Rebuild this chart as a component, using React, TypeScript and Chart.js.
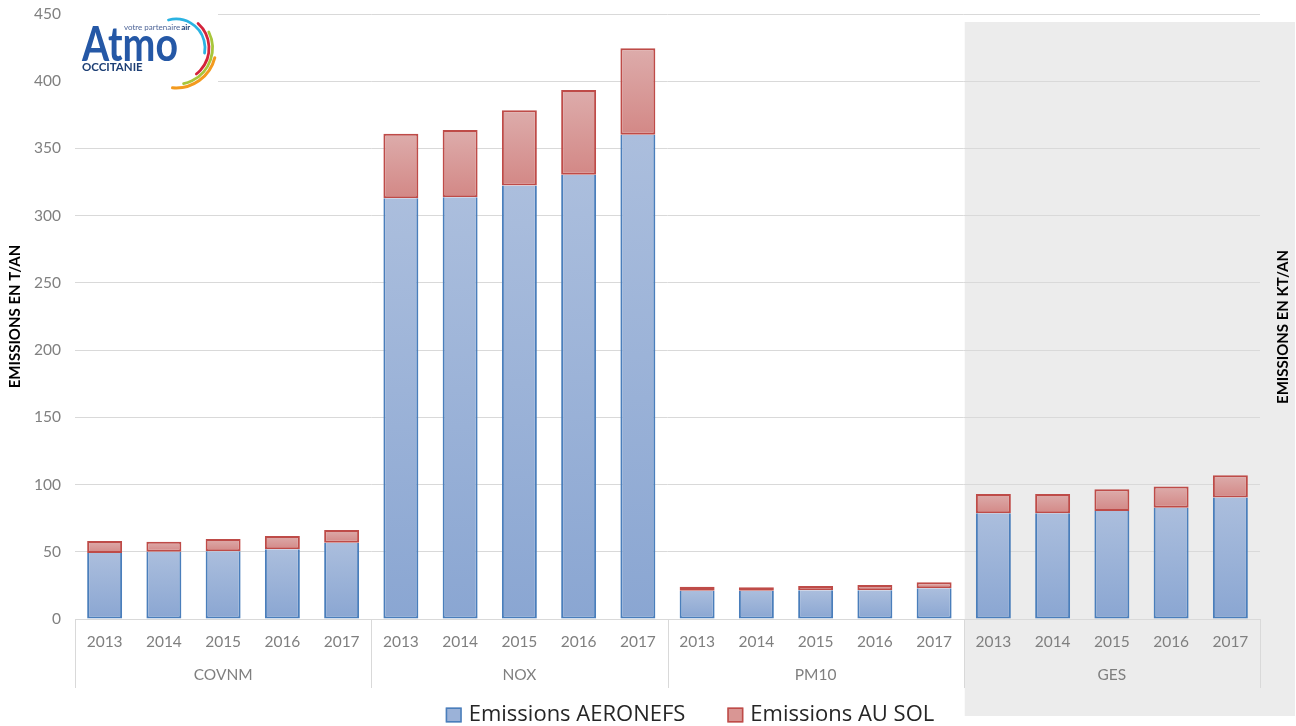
import React, { useEffect, useRef } from "react";
import { Chart, registerables } from "chart.js";

Chart.register(...registerables);

const years = ["2013", "2014", "2015", "2016", "2017"];
const pollutants = ["COVNM", "NOX", "PM10", "GES"];

// Emissions AERONEFS per pollutant, 2013 → 2017
const covnmAeronefs = [49, 50, 50.4, 51.8, 56.8];
const noxAeronefs = [313, 313.7, 322.4, 330.4, 360.1];
const pm10Aeronefs = [21, 21, 21.3, 21.3, 22.8];
const gesAeronefs = [78.6, 78.6, 80.4, 82.8, 90.3];

// Emissions AU SOL per pollutant, 2013 → 2017
const covnmSol = [9, 7.5, 9.1, 9.9, 9.4];
const noxSol = [47.9, 50.1, 56.1, 63, 64.5];
const pm10Sol = [3, 2.6, 3.3, 4, 4.5];
const gesSol = [14.4, 14.4, 16.1, 15.7, 16.6];

const yMin = 0;
const yMax = 450;
const yStep = 50;

const seriesNames = ["Emissions AERONEFS", "Emissions AU SOL"];
const leftAxisTitle = "EMISSIONS EN T/AN";
const rightAxisTitle = "EMISSIONS EN KT/AN";
const highlightedGroup = "GES";

const categoryLabels = pollutants.flatMap(() => years);
const aeronefs = [...covnmAeronefs, ...noxAeronefs, ...pm10Aeronefs, ...gesAeronefs];
const auSol = [...covnmSol, ...noxSol, ...pm10Sol, ...gesSol];

const FONT = "Lato, 'Open Sans', sans-serif";
const LEGEND_FONT = "'Open Sans', Lato, sans-serif";
const W = 1296;
const H = 726;

// Vertical gradient running from the top to the bottom of each stacked segment
function segmentGradient(top: string, bottom: string) {
  return (ctx: any) => {
    const chart = ctx.chart;
    if (!chart.chartArea || ctx.type !== "data") return bottom;
    const y = chart.scales.y;
    const i = ctx.dataIndex;
    let base = 0;
    for (let d = 0; d < ctx.datasetIndex; d++) base += chart.data.datasets[d].data[i];
    const v = chart.data.datasets[ctx.datasetIndex].data[i];
    const y0 = y.getPixelForValue(base + v);
    const y1 = y.getPixelForValue(base);
    if (!isFinite(y0) || !isFinite(y1) || Math.abs(y1 - y0) < 0.5) return bottom;
    const g = chart.ctx.createLinearGradient(0, y0, 0, y1);
    g.addColorStop(0, top);
    g.addColorStop(1, bottom);
    return g;
  };
}

function groupBounds(chart: any, g: number) {
  const x = chart.scales.x;
  const step = x.getPixelForValue(1) - x.getPixelForValue(0);
  const first = g * years.length;
  const last = first + years.length - 1;
  return {
    left: x.getPixelForValue(first) - step / 2,
    right: x.getPixelForValue(last) + step / 2,
  };
}

// Shaded panel behind the GES group
const panelPlugin = {
  id: "panel",
  beforeDraw(chart: any) {
    const c = chart.ctx;
    const g = pollutants.indexOf(highlightedGroup);
    const b = groupBounds(chart, g);
    c.save();
    c.fillStyle = "#ffffff";
    c.fillRect(0, 0, W, H);
    c.fillStyle = "#ececec";
    c.fillRect(b.left + 1, 22, W - b.left - 2, 694);
    c.restore();
  },
};

// Pollutant row, separators, right-hand title, legend and logo
const decorPlugin = {
  id: "decor",
  afterDraw(chart: any) {
    const c = chart.ctx;
    const area = chart.chartArea;
    c.save();

    // separators between pollutant groups
    c.strokeStyle = "#d9d9d9";
    c.lineWidth = 1;
    for (let g = 0; g < pollutants.length; g++) {
      const b = groupBounds(chart, g);
      for (const px of [b.left, b.right]) {
        const xx = Math.round(px) + 0.5;
        c.beginPath();
        c.moveTo(xx, area.bottom);
        c.lineTo(xx, 688);
        c.stroke();
      }
    }

    // pollutant names
    c.fillStyle = "#7f7f7f";
    c.font = `15.5px ${FONT}`;
    c.textAlign = "center";
    c.textBaseline = "middle";
    pollutants.forEach((p, g) => {
      const b = groupBounds(chart, g);
      c.fillText(p, (b.left + b.right) / 2, 675);
    });

    // right-hand axis title
    c.save();
    c.translate(1283, 327);
    c.rotate(-Math.PI / 2);
    c.fillStyle = "#000000";
    c.font = `bold 15px ${FONT}`;
    c.textAlign = "center";
    c.textBaseline = "middle";
    c.fillText(rightAxisTitle, 0, 0);
    c.restore();

    // legend
    const sets = chart.data.datasets;
    c.font = `22px ${LEGEND_FONT}`;
    const boxW = 16;
    const boxH = 15;
    const gap = 7;
    const spacing = 42;
    const widths = sets.map((d: any) => c.measureText(d.label).width);
    const total = widths.reduce((a: number, w: number) => a + boxW + gap + w, 0) + spacing * (sets.length - 1);
    let lx = 690 - total / 2;
    const ly = 715;
    const legendFill = ["#9bb2d8", "#d99694"];
    sets.forEach((d: any, i: number) => {
      c.fillStyle = legendFill[i];
      c.fillRect(lx, ly - boxH / 2, boxW, boxH);
      c.strokeStyle = d.borderColor;
      c.lineWidth = 1.5;
      c.strokeRect(lx + 0.75, ly - boxH / 2 + 0.75, boxW - 1.5, boxH - 1.5);
      c.fillStyle = "#262626";
      c.textAlign = "left";
      c.textBaseline = "middle";
      c.fillText(d.label, lx + boxW + gap, ly);
      lx += boxW + gap + widths[i] + spacing;
    });

    // logo
    c.fillStyle = "#ffffff";
    c.fillRect(72, 2, 146, 88);
    const cx = 176;
    const cy = 48;
    const arc = (r: number, a0: number, a1: number, color: string, w: number) => {
      c.beginPath();
      c.arc(cx, cy, r, (a0 * Math.PI) / 180, (a1 * Math.PI) / 180);
      c.strokeStyle = color;
      c.lineWidth = w;
      c.lineCap = "round";
      c.stroke();
    };
    arc(29, -105, 10, "#2bb3e2", 2.8);
    arc(33, -48, 52, "#d4233b", 2.8);
    arc(36.5, -26, 78, "#a8c63b", 2.8);
    arc(40, 14, 95, "#f39a1e", 3);

    c.textAlign = "left";
    c.textBaseline = "alphabetic";
    c.font = `bold 47px ${FONT}`;
    const atmoW = c.measureText("Atmo").width;
    c.save();
    c.translate(82, 61);
    c.scale(96 / atmoW, 1);
    c.fillStyle = "#2558a6";
    c.fillText("Atmo", 0, 0);
    c.restore();

    c.font = `8px ${FONT}`;
    c.fillStyle = "#4d6497";
    c.fillText("votre partenaire", 124, 30);
    const vw = c.measureText("votre partenaire").width;
    c.font = `bold 8px ${FONT}`;
    c.fillStyle = "#1d3f75";
    c.fillText("air", 124 + vw + 1, 30);

    c.font = `bold 11.5px ${FONT}`;
    c.fillStyle = "#1d3f75";
    c.fillText("OCCITANIE", 82, 71);

    c.restore();
  },
};

export default function App() {
  const ref = useRef<HTMLCanvasElement | null>(null);

  useEffect(() => {
    if (!ref.current) return;
    Chart.defaults.font.family = FONT;
    const chart = new Chart(ref.current, {
      type: "bar",
      data: {
        labels: categoryLabels,
        datasets: [
          {
            label: seriesNames[0],
            data: aeronefs,
            backgroundColor: segmentGradient("#abbedd", "#8aa6d2"),
            borderColor: "#4a7ebb",
            borderWidth: 2,
            borderSkipped: "top",
            categoryPercentage: 1,
            barPercentage: 0.59,
          },
          {
            label: seriesNames[1],
            data: auSol,
            backgroundColor: segmentGradient("#ddacab", "#d38886"),
            borderColor: "#be4b48",
            borderWidth: 2,
            borderSkipped: false,
            categoryPercentage: 1,
            barPercentage: 0.59,
          },
        ],
      },
      options: {
        responsive: false,
        animation: false,
        layout: { padding: { top: 14, right: 36, left: 0, bottom: 0 } },
        plugins: {
          legend: { display: false },
          tooltip: { enabled: false },
        },
        scales: {
          x: {
            stacked: true,
            grid: { display: false, drawTicks: false },
            border: { display: true, color: "#d9d9d9" },
            ticks: {
              color: "#7f7f7f",
              font: { size: 15.5 },
              padding: 14,
              maxRotation: 0,
              autoSkip: false,
            },
            afterFit: (s: any) => {
              s.height = 107;
            },
          },
          y: {
            stacked: true,
            min: yMin,
            max: yMax,
            ticks: { stepSize: yStep, color: "#808080", font: { size: 15.5 }, padding: 0 },
            grid: {
              color: "#d9d9d9",
              drawTicks: true,
              tickLength: 14,
              tickColor: "rgba(0,0,0,0)",
            },
            border: { display: false },
            title: {
              display: true,
              text: leftAxisTitle,
              color: "#000000",
              font: { size: 15, weight: "bold" },
              padding: { top: 6, bottom: 0 },
            },
            afterFit: (s: any) => {
              s.width = 75;
            },
          },
        },
      },
      plugins: [panelPlugin, decorPlugin],
    } as any);
    return () => chart.destroy();
  }, []);

  return (
    <div style={{ position: "fixed", left: 0, top: 0, width: W, height: H }}>
      <canvas ref={ref} width={W} height={H} style={{ display: "block" }} />
    </div>
  );
}
